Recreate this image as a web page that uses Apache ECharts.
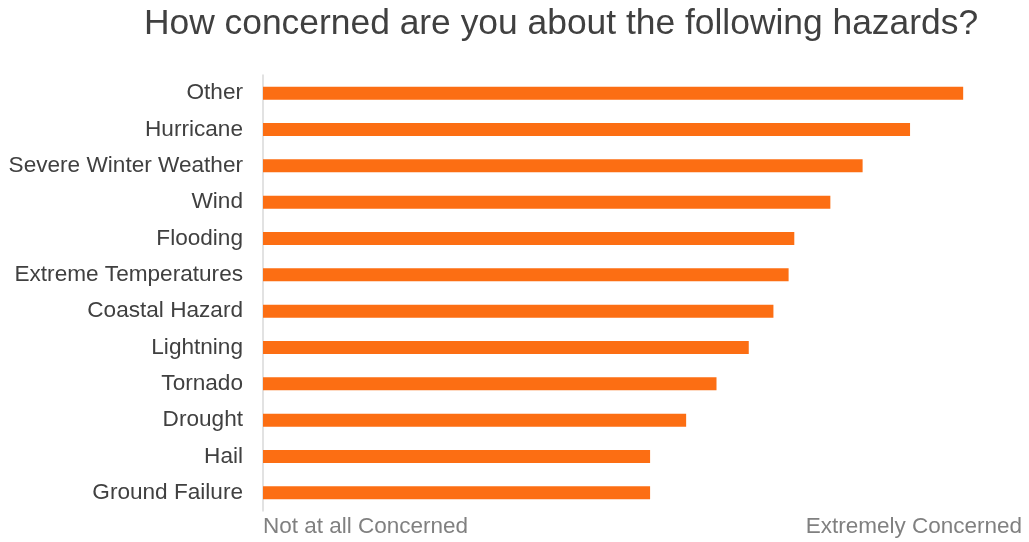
<!DOCTYPE html>
<html>
<head>
<meta charset="utf-8">
<title>Hazard concern</title>
<script src="https://cdn.jsdelivr.net/npm/echarts@6/dist/echarts.min.js"></script>
<style>
  html, body { margin: 0; padding: 0; background: #ffffff; }
  #chart { width: 1029px; height: 542px; }
</style>
</head>
<body>
<div id="chart"></div>
<script>
// Hazards, listed top to bottom
const hazards = [
  'Other', 'Hurricane', 'Severe Winter Weather', 'Wind', 'Flooding',
  'Extreme Temperatures', 'Coastal Hazard', 'Lightning', 'Tornado',
  'Drought', 'Hail', 'Ground Failure'
];

// Mean concern on a 1 (not at all) to 5 (extremely) scale
const concern = [4.69, 4.41, 4.16, 3.99, 3.80, 3.77, 3.69, 3.56, 3.39, 3.23, 3.04, 3.04];

// Scale end labels
const scaleMin = 1;
const scaleMax = 5;
const scaleLabels = ['Not at all Concerned', 'Extremely Concerned'];

const FONT = '"Liberation Sans", Arial, sans-serif';

const chart = echarts.init(document.getElementById('chart'), null, { renderer: 'canvas' });

chart.setOption({
  animation: false,
  backgroundColor: '#ffffff',
  title: {
    text: 'How concerned are you about the following hazards?',
    left: 556,
    top: 2,
    textAlign: 'center',
    textStyle: {
      fontFamily: FONT,
      fontSize: 35.4,
      fontWeight: 'normal',
      color: '#404040'
    }
  },
  grid: {
    left: 263,
    right: 7,
    top: 75,
    bottom: 31,
    containLabel: false
  },
  xAxis: {
    type: 'value',
    min: scaleMin,
    max: scaleMax,
    interval: scaleMax - scaleMin,
    splitLine: { show: false },
    axisLine: { show: false },
    axisTick: { show: false },
    axisLabel: {
      margin: 4,
      fontFamily: FONT,
      fontSize: 22.5,
      color: '#808080',
      alignMinLabel: 'left',
      alignMaxLabel: 'right',
      formatter: function (v) {
        if (v === scaleMin) return scaleLabels[0];
        if (v === scaleMax) return scaleLabels[1];
        return '';
      }
    }
  },
  yAxis: {
    type: 'category',
    data: hazards,
    inverse: true,
    axisLine: { show: true, lineStyle: { color: '#d9d9d9', width: 1.5 } },
    axisTick: { show: false },
    axisLabel: {
      margin: 20,
      fontFamily: FONT,
      fontSize: 22.6,
      color: '#404040'
    }
  },
  series: [{
    type: 'bar',
    data: concern,
    barWidth: 13,
    itemStyle: { color: '#FC6E13' },
    silent: true
  }]
});
</script>
</body>
</html>
